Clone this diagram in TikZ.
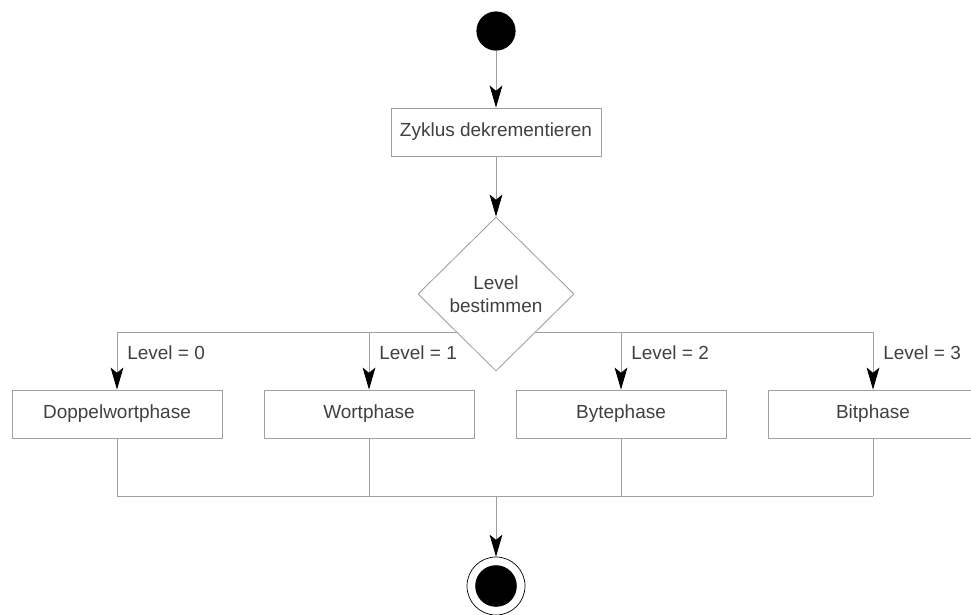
\documentclass[tikz,border=0pt]{standalone}
\usepackage{fontspec}
\setmainfont{Liberation Sans}
\usetikzlibrary{arrows.meta,shapes.geometric,positioning,calc}
\tikzset{
  flow/.style={draw=gray!75,line width=.6pt},
  act/.style={draw=gray!75,line width=.6pt,fill=white,rectangle,
    minimum width=5.25cm,minimum height=1.2cm,inner sep=0pt,
    text=black!75,font=\fontsize{13.5}{16}\selectfont},
  dec/.style={draw=gray!75,line width=.6pt,fill=white,diamond,aspect=1,
    minimum width=3.9cm,minimum height=3.85cm,inner sep=0pt,align=center,
    text=black!75,font=\fontsize{13.5}{16.5}\selectfont},
  lbl/.style={anchor=west,inner sep=0pt,text=black!75,font=\fontsize{13.5}{16}\selectfont},
  startdot/.style={circle,fill=black,minimum size=.98cm,inner sep=0pt},
  enddot/.style={circle,draw=black,line width=.5pt,fill=white,minimum size=1.45cm,inner sep=0pt}
}
\begin{document}
\begin{tikzpicture}[x=.025cm,y=-.025cm,
    >={Stealth[length=5.5mm,width=3.2mm,inset=1.3mm,black]}]
  \useasboundingbox (0,0) rectangle (971,614);
  % start and first action
  \node[startdot] (start) at (496,31) {};
  \node[act] (zyklus) at (496,132) {Zyklus dekrementieren};
  \coordinate (fork) at (496,332);
  \coordinate (join) at (496,496);
  % the four phases
  \node[act] (dwphase) at (117,414) {Doppelwortphase};
  \node[act] (wphase) at (369,414) {Wortphase};
  \node[act] (bphase) at (621,414) {Bytephase};
  \node[act] (bitphase) at (873,414) {Bitphase};
  \draw[flow] (dwphase.north |- fork) -- (bitphase.north |- fork);
  \node[dec] (level) at (496,294) {Level\\bestimmen};
  \draw[flow,->] (start) -- (zyklus);
  \draw[flow,->] (zyklus) -- (level);
  \foreach \ph/\lv in {dwphase/0,wphase/1,bphase/2,bitphase/3}{
    \draw[flow,->] (\ph.north |- fork) -- (\ph.north);
    \node[lbl] (lbl\lv) at ($(\ph.north |- fork)+(10,21)$) {Level = \lv};
    \draw[flow] (\ph.south) -- (\ph.south |- join);
  }
  \draw[flow] (dwphase.south |- join) -- (bitphase.south |- join);
  % end
  \node[enddot] (end) at (496,586) {};
  \fill (end.center) circle[radius=.52cm];
  \draw[flow,->] (join) -- (end);
\end{tikzpicture}
\end{document}
